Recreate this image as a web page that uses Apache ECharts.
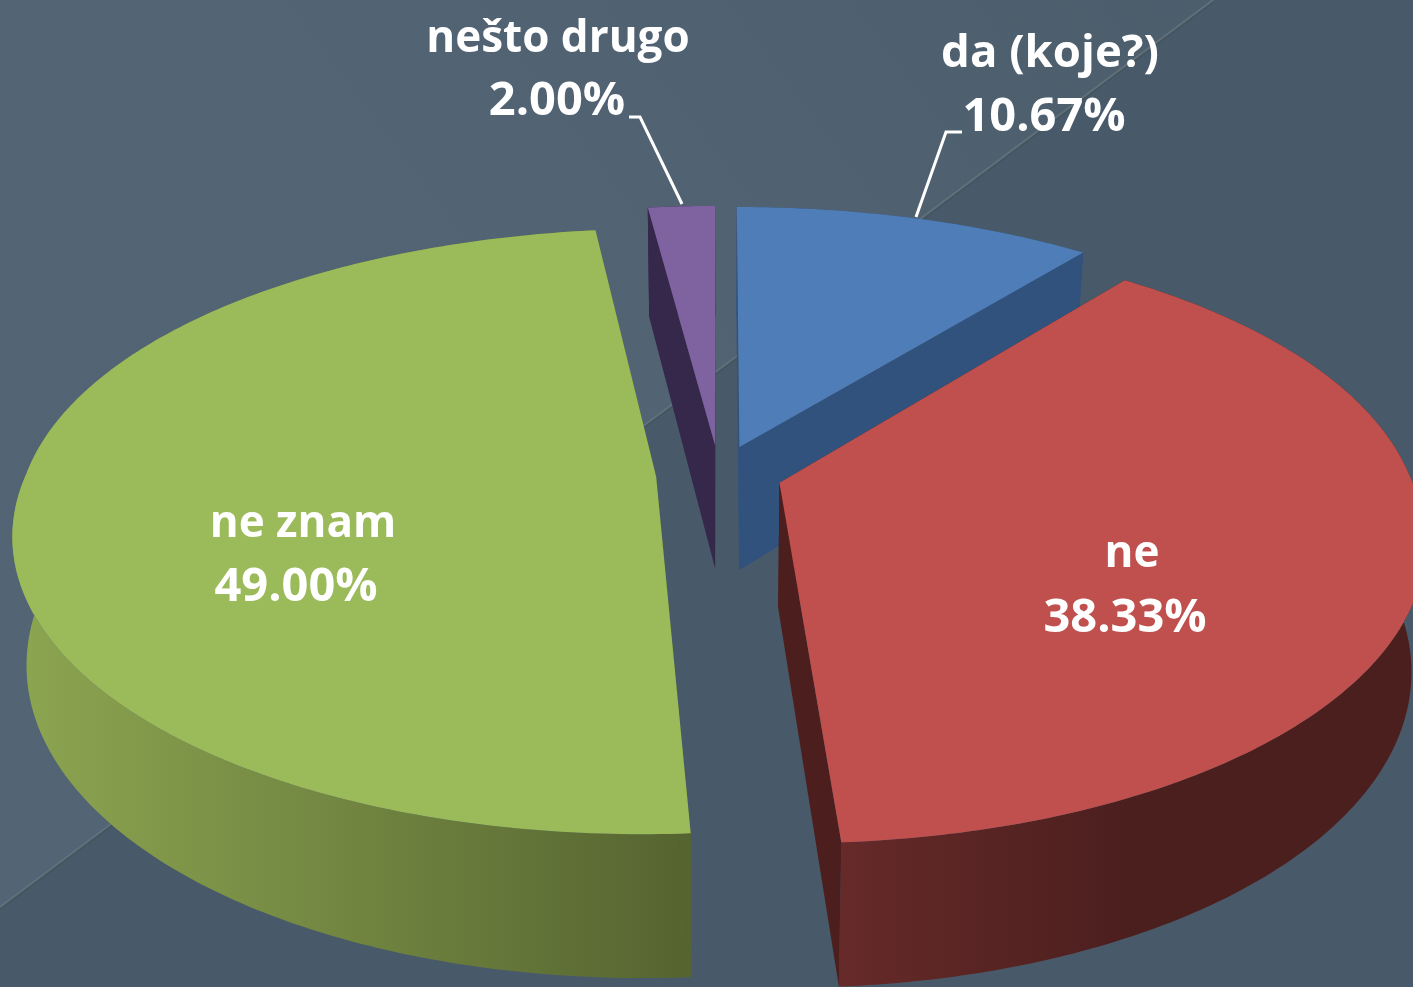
<!DOCTYPE html>
<html>
<head>
<meta charset="utf-8">
<style>html,body{margin:0;padding:0;background:#485a69}#c{width:1413px;height:987px}</style>
<script src="https://cdn.jsdelivr.net/npm/echarts@6/dist/echarts.min.js"></script>
</head>
<body>
<div id="c"></div>
<script>
var categories = ['da (koje?)', 'ne', 'ne znam', 'nešto drugo'];
var values = [10.67, 38.33, 49.00, 2.00];

var topColors = ['#4f7db8', '#bf504e', '#9bba5a', '#7f62a0'];
var cutColors = ['#31527c', '#4c1f1e', '#556430', '#36284a'];
var wallStops = [
  ['#31527c', '#31527c'],
  ['#662a29', '#4b1f1e'],
  ['#8ba450', '#556430'],
  ['#36284a', '#36284a']
];
var wallRange = [[738, 1083], [835, 1130], [30, 692], [647, 716]];
var labelLayout = [
  { name: [1050, 54], pct: [1044, 118], nameSize: 45.5, line: [[962, 132], [946, 132], [916, 217]] },
  { name: [1132, 554], pct: [1125, 619], nameSize: 44 },
  { name: [303, 524], pct: [296, 588], nameSize: 44 },
  { name: [558, 39], pct: [557, 102], nameSize: 44, line: [[629, 117], [640, 117], [682, 204]] }
];

var CX = 719, CY = 474, A = 630, B = 292, P = 0.18, PX_FAR = 0.15, EXPLODE = 0.1, H = 125, PH = 0.13, SHRINK = 0.98;
var PCT_SIZE = 47;
var FAMILY = 'px "Open Sans", sans-serif';
var total = values.reduce(function (a, b) { return a + b; }, 0);

function project(x, y, low) {
  var w = 1 + P * y;
  var wx = y > 0 ? 1 + PX_FAR * y : w;
  var sx = CX + A * (low ? SHRINK : 1) * x / wx;
  var sy = CY - B * y / w + (low ? H / (1 + PH * y) : 0);
  return [sx, sy];
}
function renderItem(params, api) {
  var i = params.dataIndex, v = api.value(0), before = 0;
  for (var k = 0; k < i; k++) before += values[k];
  var t0 = before / total * 2 * Math.PI, t1 = (before + v) / total * 2 * Math.PI;
  var mid = (t0 + t1) / 2;
  var ex = EXPLODE * Math.sin(mid), ey = EXPLODE * Math.cos(mid);
  var n = Math.max(2, Math.ceil((t1 - t0) / (Math.PI / 240)));
  var up = [], lo = [];
  for (var j = 0; j <= n; j++) {
    var t = t0 + (t1 - t0) * j / n;
    var x = Math.sin(t) + ex, y = Math.cos(t) + ey;
    up.push(project(x, y, false));
    lo.push(project(x, y, true));
  }
  var au = project(ex, ey, false), al = project(ex, ey, true);
  var children = [];
  children.push({
    type: 'polygon',
    shape: { points: up.concat(lo.slice().reverse()) },
    style: {
      fill: new echarts.graphic.LinearGradient(wallRange[i][0], 0, wallRange[i][1], 0, [
        { offset: 0, color: wallStops[i][0] }, { offset: 1, color: wallStops[i][1] }
      ], true)
    }
  });
  [0, n].forEach(function (e) {
    children.push({
      type: 'polygon',
      shape: { points: [au, up[e], lo[e], al] },
      style: { fill: cutColors[i] }
    });
  });
  children.push({
    type: 'polygon',
    shape: { points: [au].concat(up) },
    style: { fill: topColors[i] }
  });
  var lay = labelLayout[i];
  if (lay.line) {
    children.push({
      type: 'polyline',
      shape: { points: lay.line },
      style: { stroke: '#ffffff', lineWidth: 3, fill: 'none' }
    });
  }
  [[categories[i], lay.name, lay.nameSize], [v.toFixed(2) + '%', lay.pct, PCT_SIZE]].forEach(function (l) {
    children.push({
      type: 'text',
      style: {
        text: l[0], x: l[1][0], y: l[1][1], fill: '#ffffff', font: '700 ' + l[2] + FAMILY,
        textAlign: 'center', textVerticalAlign: 'middle'
      }
    });
  });
  return { type: 'group', children: children };
}

var chart = echarts.init(document.getElementById('c'), null, { renderer: 'canvas' });
chart.setOption({
  animation: false,
  backgroundColor: '#485a69',
  graphic: [
    { type: 'polygon', z: -10, silent: true,
      shape: { points: [[0, 0], [1213, 0], [0, 907]] },
      style: { fill: new echarts.graphic.LinearGradient(0, 907, 1213, 0, [
        { offset: 0, color: '#536575' }, { offset: 0.55, color: '#526373' }, { offset: 1, color: '#4c5d6c' }
      ], true) } },
    { type: 'line', z: -9, silent: true,
      shape: { x1: 0, y1: 909, x2: 1213, y2: 2 },
      style: { stroke: '#44545f', lineWidth: 2 } },
    { type: 'line', z: -9, silent: true,
      shape: { x1: 0, y1: 907, x2: 1213, y2: 0 },
      style: { stroke: '#5f707b', lineWidth: 2 } }
  ],
  series: [{
    type: 'custom',
    coordinateSystem: 'none',
    renderItem: renderItem,
    data: values.map(function (v) { return [v]; })
  }]
});
</script>
</body>
</html>
